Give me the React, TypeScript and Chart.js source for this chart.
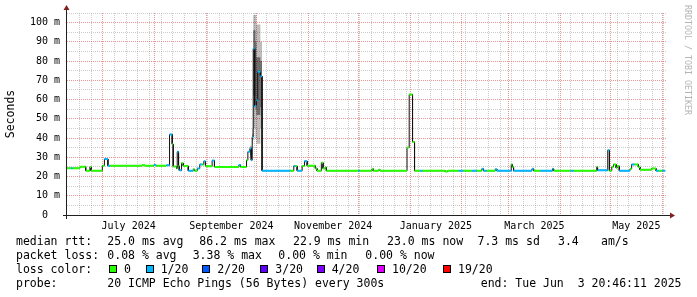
import React, { useEffect, useRef } from 'react';
import { Chart, registerables } from 'chart.js';

Chart.register(...registerables);

// ---- time axis (days since 2024-07-01) ----
const START_DAY = -21.4;
const END_DAY = 337.87;
const DATA_END_DAY = 336.8;
const monthStartDays = [0, 31, 62, 92, 123, 153, 184, 215, 243, 274, 304, 335];
const monthLabels = ['July 2024', 'September 2024', 'November 2024', 'January 2025', 'March 2025', 'May 2025'];
const monthLabelDays = [15.5, 77, 138, 199.5, 258.5, 319.5];

// ---- median rtt (ms) as step series, with loss level index ----
const stepDays = [
  -21.4, -19, -18, -14, -13.2, -10.2, -7.7, -7.0, -0.25, 1.0, 3.1, 4.5, 23.7, 25, 30.6, 32, 38,
  40.0, 41.6, 42.2, 44.2, 44.6, 45.4, 45.8, 47.2, 48.2, 51.2, 54.2, 55, 56.6, 58.1, 59.6, 60.5, 61.5,
  62.1, 65.5, 66.9, 81.5, 82.5, 86.1, 86.9, 88.1, 88.9, 89.5, 90.1, 91.0, 92.0, 92.8, 94.4, 95.4,
  112.4, 114.4, 115.4, 116.4, 119.4, 120.8, 122.4, 127.3, 128.3, 130.9, 131.9, 133.3, 133.9,
  153, 154, 161.2, 162, 165.2, 166, 182.2, 183.5, 185.5, 186.7, 190, 191.5, 205.1, 206.5, 213, 216,
  221, 224, 227, 228, 230, 235, 236, 244.6, 245.3, 246, 257, 258, 262, 269.3, 270, 280, 282,
  295.8, 296.3, 302.4, 303.4, 304.8, 305.8, 307.4, 308.1, 309.3, 315.7, 316.7, 318.5, 320.7, 321.7,
  328.7, 331.3, 333, 335,
];
const medianMs = [
  24.3, 24.3, 24.3, 24.7, 25.1, 23.0, 25.0, 23.0, 25.6, 29.1, 25.6, 25.6, 26.0, 25.6, 26.0, 25.6, 25.8,
  41.9, 36.8, 25.2, 24.2, 32.9, 25.5, 23.2, 27.0, 25.5, 23.0, 23.8, 23.0, 24.2, 26.3, 26.3, 27.9, 25.5,
  25.3, 28.3, 25.0, 26.0, 25.0, 28.5, 32.9, 34.6, 28.5, 40.6, 86.5, 56.6, 59.7, 74.4, 72.1, 23.0,
  23.0, 25.5, 25.5, 23.0, 25.5, 28.0, 25.6, 24.2, 23.0, 27.2, 24.2, 24.8, 23.0,
  23.0, 23.0, 24.0, 23.0, 23.5, 23.0, 35.1, 62.6, 38.0, 23.0, 23.0, 23.0, 22.6, 23.0, 23.0, 23.0,
  23.0, 23.0, 24.0, 23.0, 23.0, 23.8, 23.0, 26.3, 25.0, 23.0, 24.0, 23.0, 23.0, 24.0, 23.0, 23.0, 23.0,
  25.0, 23.2, 33.7, 23.0, 25.0, 26.3, 24.5, 25.5, 23.0, 24.0, 26.3, 26.3, 25.0, 23.5,
  24.2, 23.0, 23.0, 23.0,
];
const lossIdx = [
  0, 1, 0, 0, 0, 0, 0, 0, 0, 1, 1, 0, 0, 0, 1, 0, 1,
  1, 0, 0, 0, 1, 0, 1, 0, 0, 1, 0, 0, 1, 1, 0, 1, 0,
  0, 1, 0, 1, 0, 0, 1, 1, 1, 1, 1, 1, 1, 1, 1, 1,
  0, 1, 0, 1, 0, 1, 0, 0, 0, 0, 0, 0, 0,
  1, 0, 0, 0, 0, 0, 0, 0, 0, 0, 1, 0, 0, 0, 1, 0,
  1, 0, 1, 1, 0, 1, 1, 0, 0, 1, 1, 0, 1, 1, 0, 1, 0,
  0, 1, 1, 0, 0, 0, 0, 0, 1, 0, 1, 0, 0, 0,
  0, 1, 0, 1,
];

// ---- smoke (ping spread) around the September spike ----
const smokeDays = [88.1, 89.5, 90.1, 91.4, 92.0, 94.4];
const smokeOuterHi = [36, 45, 104, 104, 99, 90];
const smokeOuterLo = [30, 37, 45, 40, 37, 45];
const smokeInnerHi = [34, 42, 96, 90, 82, 80];
const smokeInnerLo = [31, 39, 62, 55, 52, 56];
const SMOKE_END_DAY = 95.4;

// ---- legend ----
const lossLabels = ['0', '1/20', '2/20', '3/20', '4/20', '10/20', '19/20'];
const lossColors = ['#26ff00', '#00b8ff', '#0059ff', '#5e00ff', '#7e00ff', '#dd00ff', '#ff0000'];
const rttStats = ['25.0 ms avg', '86.2 ms max', '22.9 ms min', '23.0 ms now', '7.3 ms sd', '3.4', 'am/s'];
const lossStats = ['0.08 % avg', '3.38 % max', '0.00 % min', '0.00 % now'];
const probeText = '20 ICMP Echo Pings (56 Bytes) every 300s';
const endText = 'end: Tue Jun  3 20:46:11 2025';

// layout (not data)
const FONT = "'DejaVu Sans Mono', monospace";
const rttX = [107.3, 199.3, 293, 387, 477.5, 558, 601];
const lossStatX = [107.3, 192.7, 278.3, 365.3];
const lossLabelX = [124, 160.7, 217.3, 275.3, 331.7, 392, 458];
const rowTop = [234, 248, 262, 276];

// value i holds from day i to day i+1
function buildSteps(days: number[], vals: number[], end: number) {
  const pts: { x: number; y: number }[] = [];
  for (let i = 0; i < days.length; i++) {
    const next = i + 1 < days.length ? days[i + 1] : end;
    pts.push({ x: days[i], y: vals[i] });
    pts.push({ x: next, y: vals[i] });
  }
  return pts;
}

function lossSegments(level: number) {
  const pts: { x: number; y: number | null }[] = [];
  for (let i = 0; i < stepDays.length; i++) {
    if (lossIdx[i] !== level) continue;
    const next = i + 1 < stepDays.length ? stepDays[i + 1] : DATA_END_DAY;
    pts.push({ x: stepDays[i], y: medianMs[i] });
    pts.push({ x: next, y: medianMs[i] });
    pts.push({ x: next, y: null });
  }
  return pts;
}

const axisPlugin = {
  id: 'rrdAxes',
  afterDatasetsDraw(chart: any) {
    const { ctx, chartArea } = chart;
    const { left, right, top, bottom } = chartArea;
    ctx.save();
    ctx.strokeStyle = '#1f1f1f';
    ctx.lineWidth = 1;
    ctx.setLineDash([]);
    ctx.beginPath();
    ctx.moveTo(left - 4, bottom + 0.5);
    ctx.lineTo(right + 4, bottom + 0.5);
    ctx.moveTo(left - 0.5, bottom + 4);
    ctx.lineTo(left - 0.5, top - 3);
    ctx.stroke();
    ctx.fillStyle = '#801f1f';
    ctx.beginPath();
    ctx.moveTo(right + 3, bottom - 2.5);
    ctx.lineTo(right + 8, bottom + 0.5);
    ctx.lineTo(right + 3, bottom + 3.5);
    ctx.closePath();
    ctx.fill();
    ctx.beginPath();
    ctx.moveTo(left - 3.5, top - 3);
    ctx.lineTo(left - 0.5, top - 8);
    ctx.lineTo(left + 2.5, top - 3);
    ctx.closePath();
    ctx.fill();
    ctx.restore();
  },
};

export default function App() {
  const ref = useRef<HTMLCanvasElement | null>(null);

  useEffect(() => {
    document.body.style.margin = '0';
    const canvas = ref.current;
    if (!canvas) return;

    const weekDays: number[] = [];
    for (let d = -14; d <= END_DAY; d += 7) weekDays.push(d);
    const xTicks = Array.from(new Set<number>([...monthStartDays, ...monthLabelDays, ...weekDays])).sort(
      (a, b) => a - b,
    );

    const chart = new Chart(canvas, {
      type: 'line',
      data: {
        datasets: [
          {
            data: lossSegments(0) as any,
            borderColor: lossColors[0],
            borderWidth: 2,
            pointRadius: 0,
            fill: false,
            spanGaps: false,
            order: 0,
          },
          {
            data: lossSegments(1) as any,
            borderColor: lossColors[1],
            borderWidth: 2,
            pointRadius: 0,
            fill: false,
            spanGaps: false,
            order: 1,
          },
          {
            data: buildSteps(stepDays, medianMs, DATA_END_DAY),
            borderColor: '#111111',
            borderWidth: 1,
            pointRadius: 0,
            fill: false,
            order: 2,
          },
          {
            data: buildSteps(smokeDays, smokeInnerHi, SMOKE_END_DAY),
            borderColor: 'rgba(0,0,0,0)',
            borderWidth: 0,
            backgroundColor: 'rgba(0,0,0,0.42)',
            pointRadius: 0,
            fill: '+1',
            order: 3,
          },
          {
            data: buildSteps(smokeDays, smokeInnerLo, SMOKE_END_DAY),
            borderColor: 'rgba(0,0,0,0)',
            borderWidth: 0,
            pointRadius: 0,
            fill: false,
            order: 4,
          },
          {
            data: buildSteps(smokeDays, smokeOuterHi, SMOKE_END_DAY),
            borderColor: 'rgba(0,0,0,0)',
            borderWidth: 0,
            backgroundColor: 'rgba(0,0,0,0.26)',
            pointRadius: 0,
            fill: '+1',
            order: 5,
          },
          {
            data: buildSteps(smokeDays, smokeOuterLo, SMOKE_END_DAY),
            borderColor: 'rgba(0,0,0,0)',
            borderWidth: 0,
            pointRadius: 0,
            fill: false,
            order: 6,
          },
        ],
      },
      options: {
        responsive: false,
        animation: false,
        devicePixelRatio: 1,
        events: [],
        layout: { padding: { left: 0, right: 30, top: 13, bottom: 0 } },
        plugins: { legend: { display: false }, tooltip: { enabled: false } },
        elements: { point: { radius: 0 }, line: { tension: 0 } },
        scales: {
          x: {
            type: 'linear',
            min: START_DAY,
            max: END_DAY,
            afterBuildTicks: (s: any) => {
              s.ticks = xTicks.map((v) => ({ value: v }));
            },
            afterFit: (s: any) => {
              s.height = 82;
            },
            grid: {
              drawTicks: false,
              lineWidth: 1,
              color: (c: any) => {
                const v = c.tick ? c.tick.value : NaN;
                if (monthStartDays.includes(v)) return 'rgba(222,79,79,0.6)';
                if (weekDays.includes(v)) return 'rgba(143,143,143,0.45)';
                return 'rgba(0,0,0,0)';
              },
            },
            border: { display: false, dash: [1, 1] },
            ticks: {
              autoSkip: false,
              maxRotation: 0,
              minRotation: 0,
              padding: 5,
              color: '#000',
              font: { family: FONT, size: 10 },
              callback: (v: any) => {
                const i = monthLabelDays.indexOf(Number(v));
                return i >= 0 ? monthLabels[i] : '';
              },
            },
          },
          y: {
            type: 'linear',
            min: 0,
            max: 105,
            afterFit: (s: any) => {
              s.width = 67;
            },
            grid: {
              drawTicks: false,
              lineWidth: 1,
              color: (c: any) => {
                const v = c.tick ? c.tick.value : NaN;
                if (v === 0) return 'rgba(0,0,0,0)';
                if (v % 10 === 0) return 'rgba(222,79,79,0.6)';
                return 'rgba(143,143,143,0.45)';
              },
            },
            border: { display: false, dash: [1, 1] },
            ticks: {
              stepSize: 5,
              autoSkip: false,
              padding: 7,
              color: '#000',
              font: { family: FONT, size: 10 },
              callback: (v: any) => {
                const n = Number(v);
                if (n % 10 !== 0) return '';
                return n === 0 ? '0  ' : `${n} m`;
              },
            },
            title: {
              display: true,
              text: 'Seconds',
              color: '#000',
              font: { family: FONT, size: 11.5 },
              padding: { top: 4, bottom: 0 },
            },
          },
        },
      },
      plugins: [axisPlugin],
    } as any);

    return () => chart.destroy();
  }, []);

  const txt: React.CSSProperties = {
    position: 'absolute',
    fontFamily: FONT,
    fontSize: '11.5px',
    lineHeight: '14px',
    whiteSpace: 'pre',
    color: '#000',
  };

  return (
    <div style={{ position: 'relative', width: 697, height: 297, background: '#fff', overflow: 'hidden' }}>
      <canvas ref={ref} width={697} height={297} style={{ position: 'absolute', left: 0, top: 0 }} />
      <div
        style={{
          position: 'absolute',
          left: 683,
          top: 5,
          writingMode: 'vertical-rl',
          fontFamily: FONT,
          fontSize: '8.3px',
          lineHeight: '10px',
          whiteSpace: 'pre',
          color: '#b4b4b4',
        }}
      >
        RRDTOOL / TOBI OETIKER
      </div>
      <span style={{ ...txt, left: 16, top: rowTop[0] }}>median rtt:</span>
      {rttStats.map((s, i) => (
        <span key={'r' + i} style={{ ...txt, left: rttX[i], top: rowTop[0] }}>{s}</span>
      ))}
      <span style={{ ...txt, left: 16, top: rowTop[1] }}>packet loss:</span>
      {lossStats.map((s, i) => (
        <span key={'l' + i} style={{ ...txt, left: lossStatX[i], top: rowTop[1] }}>{s}</span>
      ))}
      <span style={{ ...txt, left: 16, top: rowTop[2] }}>loss color:</span>
      {lossLabels.map((s, i) => (
        <React.Fragment key={'c' + i}>
          <div
            style={{
              position: 'absolute',
              left: Math.round(lossLabelX[i] - 15),
              top: 265,
              width: 8,
              height: 8,
              boxSizing: 'border-box',
              border: '1px solid #000',
              background: lossColors[i],
            }}
          />
          <span style={{ ...txt, left: lossLabelX[i], top: rowTop[2] }}>{s}</span>
        </React.Fragment>
      ))}
      <span style={{ ...txt, left: 16, top: rowTop[3] }}>probe:</span>
      <span style={{ ...txt, left: 107.3, top: rowTop[3] }}>{probeText}</span>
      <span style={{ ...txt, right: 15.5, top: rowTop[3] }}>{endText}</span>
    </div>
  );
}
